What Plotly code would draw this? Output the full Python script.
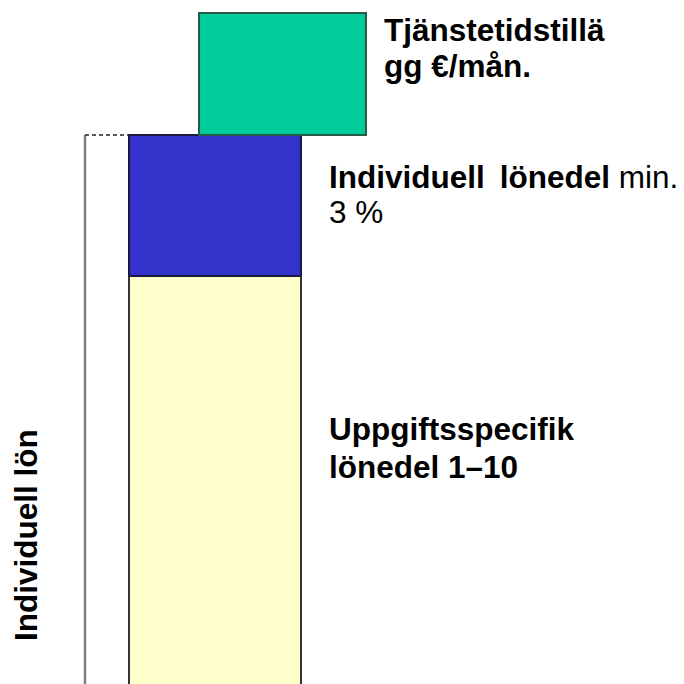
import plotly.graph_objects as go

# ---- data ----
segments = ["Uppgiftsspecifik lönedel 1–10", "Individuell lönedel min. 3 %", "Tjänstetidstillägg €/mån."]
segment_heights = [409, 141, 122]
segment_colors = ["#FFFFCC", "#3333CC", "#00CC99"]
segment_line_colors = ["#333333", "#1a1a40", "#2a5a48"]
label_lines = [
    ["<b>Uppgiftsspecifik</b>", "<b>lönedel 1–10</b>"],
    ["<b>Individuell\u2009 lönedel</b> min.", "3 %"],
    ["<b>Tjänstetidstillä</b>", "<b>gg €/mån.</b>"],
]
side_label = "<b>Individuell lön</b>"

# ---- layout constants ----
W = H = 684
FONT = "Liberation Sans, Arial, sans-serif"
main_x, main_w = 215, 172
green_x, green_w = 282.5, 167
bracket_x = 85
label_xs = [327, 327, 382]
line_baselines = [[439, 477], [187, 222], [40, 76]]
fs = 31.5

fig = go.Figure()

bases = []
acc = 0
for h in segment_heights:
    bases.append(acc)
    acc += h

xs = [main_x, main_x, green_x]
ws = [main_w, main_w, green_w]
for i in range(3):
    fig.add_trace(go.Bar(
        x=[xs[i]], y=[segment_heights[i]], base=[bases[i]], width=[ws[i]],
        marker=dict(color=segment_colors[i], line=dict(color=segment_line_colors[i], width=2)),
        name=segments[i], showlegend=False, hoverinfo="name",
    ))

top_ind = bases[2]
left_edge = main_x - main_w / 2
fig.add_trace(go.Scatter(x=[bracket_x, bracket_x], y=[-5, top_ind], mode="lines",
                         line=dict(color="#808080", width=2.5), showlegend=False, hoverinfo="skip"))
fig.add_trace(go.Scatter(x=[bracket_x, left_edge], y=[top_ind, top_ind], mode="lines",
                         line=dict(color="#222222", width=1.5, dash="4px,3px"), showlegend=False, hoverinfo="skip"))

annotations = []
for lines, bls, lx in zip(label_lines, line_baselines, label_xs):
    for txt, bl in zip(lines, bls):
        annotations.append(dict(
            x=lx, y=H - (bl - 0.36 * fs), xref="x", yref="y", text=txt, showarrow=False,
            xanchor="left", yanchor="middle", font=dict(family=FONT, size=fs, color="black"),
        ))
annotations.append(dict(
    x=26, y=H - 534, xref="x", yref="y", text=side_label, showarrow=False, textangle=-90,
    xanchor="center", yanchor="middle", font=dict(family=FONT, size=fs, color="black"),
))

fig.update_layout(
    width=W, height=H, margin=dict(l=0, r=0, t=0, b=0),
    paper_bgcolor="white", plot_bgcolor="white", barmode="overlay",
    xaxis=dict(range=[0, W], visible=False, fixedrange=True),
    yaxis=dict(range=[1, H + 1], visible=False, fixedrange=True),
    annotations=annotations, bargap=0,
)
fig.write_html("out.html", config={"displayModeBar": False},
               post_script="document.body.style.margin='0px';document.body.style.overflow='hidden';")
